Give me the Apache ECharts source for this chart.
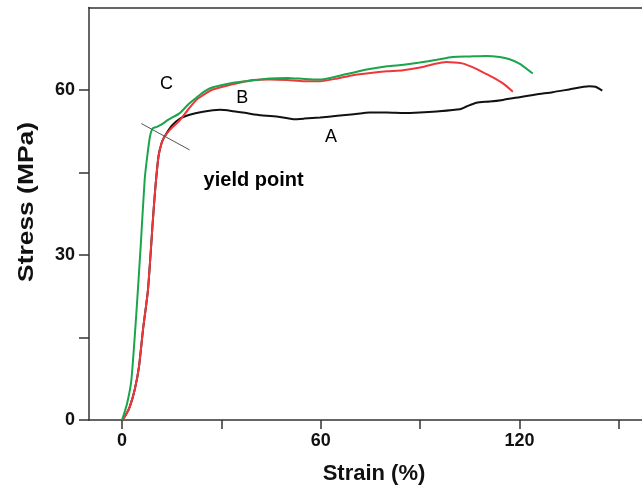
<!DOCTYPE html>
<html>
<head>
<meta charset="utf-8">
<script src="https://cdn.jsdelivr.net/npm/echarts@6/dist/echarts.min.js"></script>
<style>
    html, body { margin: 0; padding: 0; background: #fff; }
    #chart { width: 642px; height: 488px; }
</style>
</head>
<body>
<div id="chart"></div>
<script>
// strain (%) / stress (MPa)
var curveA = [[0,0],[1,0.8],[2.3,2.4],[3.8,5.5],[5.1,9.7],[6.3,16.4],[7.8,23.6],[9.3,36.4],[10,42],[11,48],[12,50.5],[12.8,51.5],
    [15,53.5],[17.5,54.8],[20.4,55.5],[24,56],[29.5,56.4],[33,56.2],[37.5,55.8],[42,55.4],[47.6,55.1],[51.7,54.7],[55,54.8],
    [59.8,55],[65,55.3],[70,55.6],[74.8,55.9],[80,55.9],[85,55.8],[89.9,55.9],[95,56.1],[102,56.5],[104,57],[107,57.7],
    [111,57.9],[115,58.2],[120,58.7],[125,59.2],[130,59.6],[135,60.1],[141,60.7],[143,60.6],[145,59.9]];
var curveB = [[0,0],[1,0.8],[2.3,2.4],[3.8,5.5],[5.1,9.7],[6.3,16.4],[7.8,23.6],[9.3,36.4],[10,42],[11,48],[12,50.5],[12.8,51.5],
    [14.5,52.8],[17.4,54.5],[20,56.5],[22.4,58.2],[25,59.3],[27.4,60.1],[32.5,60.9],[39.4,61.8],[44.6,61.9],[50,61.8],
    [55,61.6],[59.8,61.6],[65,62.1],[69.7,62.7],[75,63.1],[80,63.4],[84.8,63.6],[90,64.1],[94,64.7],[97.9,65.1],[100.5,65],
    [103,64.8],[106,64.1],[109,63.2],[112,62.3],[115,61.2],[118,59.7]];
var curveC = [[0,0],[1.5,3],[2.8,7.3],[4.3,19.4],[5.6,31.5],[6.8,43.6],[7.6,48],[8.4,51.5],[9.2,53],[10.5,53.3],[11.8,53.7],
    [14,54.6],[17.4,55.8],[20,57.4],[22.4,58.6],[25,59.8],[27.4,60.5],[32.5,61.2],[37.5,61.6],[44.6,62.1],[50,62.2],[55,62],
    [59.8,61.9],[65,62.5],[70,63.2],[74.8,63.8],[80,64.3],[85,64.6],[89.9,65],[95,65.5],[99.8,66],[105,66.1],[110,66.2],
    [114,66],[117,65.6],[120,64.8],[124,63]];
var yieldLine = [[5.8,53.9],[20.4,49.1]];
var notes = [[13.4,61,'C'],[36.3,58.5,'B'],[63.1,51.5,'A']];
var yieldNote = [[39.7,43.5,'yield point']];
var xTicks = [0,30,60,90,120,150];
var xLabels = [0,60,120];
var yTicks = [0,15,30,45,60];
var yLabels = [0,30,60];

var font = 'Liberation Sans, Arial, sans-serif';
var axisColor = '#333';

function lineSeries(data, color) {
    return {
        type: 'line',
        data: data,
        showSymbol: false,
        smooth: 0.2,
        lineStyle: { color: color, width: 2 },
        silent: true
    };
}

function noteSeries(data, size, weight) {
    return {
        type: 'scatter',
        data: data,
        symbolSize: 1,
        itemStyle: { color: '#fff' },
        silent: true,
        label: {
            show: true,
            position: 'inside',
            formatter: function (p) { return p.value[2]; },
            color: '#000',
            textBorderWidth: 0,
            opacity: 1,
            fontFamily: font,
            fontSize: size,
            fontWeight: weight
        }
    };
}

var myChart = echarts.init(document.getElementById('chart'));
var option = {
    backgroundColor: '#fff',
    animation: false,
    grid: { left: 89, right: 0, top: 7.5, bottom: 68 },
    xAxis: [{
        type: 'value',
        min: -10,
        max: 157,
        splitLine: { show: false },
        axisLine: { onZero: false, lineStyle: { color: axisColor, width: 1.5 } },
        axisTick: { customValues: xTicks, length: 9, lineStyle: { color: axisColor, width: 1.5 } },
        axisLabel: { customValues: xLabels, margin: 12, color: '#111', fontFamily: font, fontSize: 18, fontWeight: 'bold' }
    }, {
        type: 'value',
        position: 'top',
        min: -10,
        max: 157,
        splitLine: { show: false },
        axisLine: { onZero: false, lineStyle: { color: axisColor, width: 1.5 } },
        axisTick: { show: false },
        axisLabel: { show: false }
    }],
    yAxis: {
        type: 'value',
        min: 0,
        max: 75,
        splitLine: { show: false },
        axisLine: { onZero: false, lineStyle: { color: axisColor, width: 1.5 } },
        axisTick: { customValues: yTicks, length: 10, lineStyle: { color: axisColor, width: 1.5 } },
        axisLabel: { customValues: yLabels, margin: 14, color: '#111', fontFamily: font, fontSize: 18, fontWeight: 'bold' }
    },
    series: [
        lineSeries(curveA, '#111111'),
        lineSeries(curveB, '#f0363a'),
        lineSeries(curveC, '#1aa54c'),
        {
            type: 'line',
            data: yieldLine,
            showSymbol: false,
            lineStyle: { color: '#555', width: 1 },
            silent: true
        },
        noteSeries(notes, 18, 'normal'),
        noteSeries(yieldNote, 20, 'bold')
    ],
    graphic: [{
        type: 'text',
        x: 374,
        y: 474,
        style: {
            text: 'Strain (%)',
            font: 'bold 22px ' + font,
            fill: '#111',
            align: 'center',
            verticalAlign: 'middle'
        }
    }, {
        type: 'text',
        x: 27,
        y: 202,
        rotation: Math.PI / 2,
        scaleX: 1.2,
        style: {
            text: 'Stress (MPa)',
            font: 'bold 22px ' + font,
            fill: '#111',
            align: 'center',
            verticalAlign: 'middle'
        }
    }]
};
myChart.setOption(option);
</script>
</body>
</html>
